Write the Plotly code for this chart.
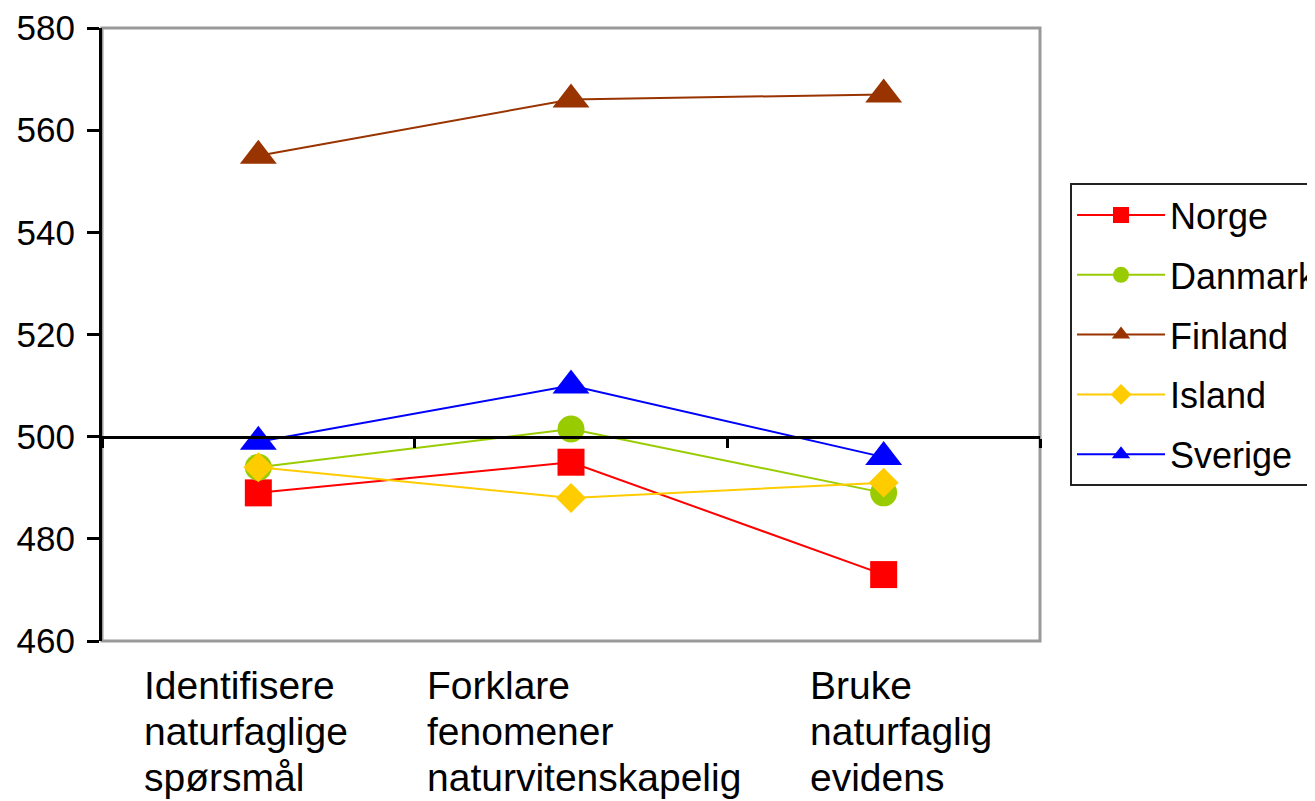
import plotly.graph_objs as go

cat_keys = ['Identifisere', 'Forklare', 'Bruke']
cat_lines = [
    ['Identifisere', 'naturfaglige', 'spørsmål'],
    ['Forklare', 'fenomener', 'naturvitenskapelig'],
    ['Bruke', 'naturfaglig', 'evidens'],
]

norge = [489, 495, 473]
danmark = [494, 501.5, 489]
finland = [555, 566, 567]
island = [494, 488, 491]
sverige = [499, 510, 496]

y_ticks = [460, 480, 500, 520, 540, 560, 580]

FONT = 'Liberation Sans, Arial, sans-serif'
# left edge of each wrapped label, relative to the category centre (px)
LABEL_XSHIFT = [-116, -146, -76]
LINE_STEP = 46


def line_trace(name, values, color, symbol, size):
    return go.Scatter(
        name=name,
        x=cat_keys,
        y=values,
        mode='lines+markers',
        legendgroup=name,
        line=dict(color=color, width=2),
        marker=dict(color=color, symbol=symbol, size=size),
    )


traces = [
    line_trace('Norge', norge, '#FF0000', 'square', 27),
    line_trace('Danmark', danmark, '#99CC00', 'circle', 27),
    line_trace('Finland', finland, '#993300', 'triangle-up', 32),
    line_trace('Island', island, '#FFCC00', 'diamond', 23),
    line_trace('Sverige', sverige, '#0000FF', 'triangle-up', 32),
]

annotations = []
for key, lines, xshift in zip(cat_keys, cat_lines, LABEL_XSHIFT):
    for i, text in enumerate(lines):
        annotations.append(dict(
            x=key, y=0, xref='x', yref='paper',
            text=text, showarrow=False,
            xanchor='left', yanchor='top',
            xshift=xshift, yshift=-21 - i * LINE_STEP,
            font=dict(family=FONT, size=39, color='black'),
        ))

# the page body has an 8px margin, so the figure is made a bit smaller
layout = go.Layout(
    width=1307,
    height=793,
    paper_bgcolor='white',
    plot_bgcolor='white',
    margin=dict(l=94, r=275, t=20, b=160, autoexpand=False),
    font=dict(family=FONT, size=35, color='black'),
    xaxis=dict(
        type='category',
        range=[-0.5, 2.5],
        anchor='free',
        position=(500 - 460) / (580 - 460),
        showline=True,
        linecolor='black',
        linewidth=3,
        ticks='outside',
        tickson='boundaries',
        ticklen=9,
        tickwidth=3,
        tickcolor='black',
        showticklabels=False,
        showgrid=False,
        zeroline=False,
    ),
    yaxis=dict(
        range=[460, 580],
        tickvals=y_ticks,
        showline=True,
        linecolor='black',
        linewidth=3,
        ticks='outside',
        ticklen=12,
        tickwidth=3,
        tickcolor='black',
        showgrid=False,
        zeroline=False,
        ticklabelstandoff=5,
    ),
    shapes=[
        dict(type='rect', xref='paper', yref='paper', x0=0, x1=1, y0=0, y1=1,
             line=dict(color='#999999', width=3), layer='below'),
    ],
    annotations=annotations,
    legend=dict(
        x=1.032, y=0.747, xanchor='left', yanchor='top',
        bordercolor='#222222', borderwidth=2, bgcolor='white',
        font=dict(family=FONT, size=36, color='black'),
        itemwidth=88,
        tracegroupgap=10,
        traceorder='grouped',
    ),
    showlegend=True,
)

fig = go.Figure(data=traces, layout=layout)
fig.write_html('out.html')
